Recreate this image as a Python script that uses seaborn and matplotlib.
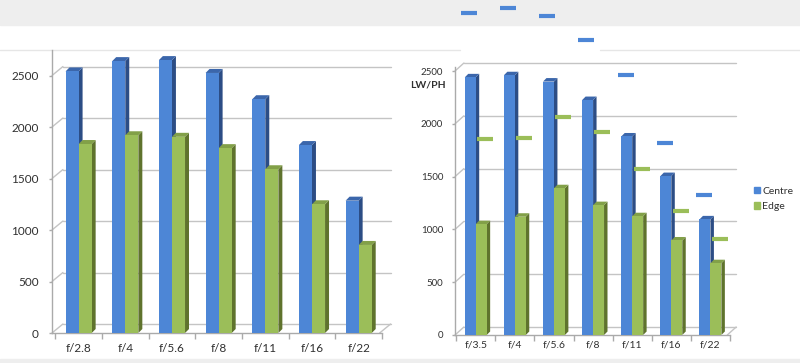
# -*- coding: utf-8 -*-
# Deux histogrammes "3D" façon Excel : LW/PH centre / bord selon l'ouverture
import numpy as np
import pandas as pd
import matplotlib
matplotlib.use('Agg')
import matplotlib.pyplot as plt
from matplotlib.patches import Polygon, Rectangle
from matplotlib.lines import Line2D
import seaborn as sns

# ── Données ──────────────────────────────────────────────────────────
apertures_left = ['f/2.8', 'f/4', 'f/5.6', 'f/8', 'f/11', 'f/16', 'f/22']
centre_left = [2540, 2640, 2650, 2525, 2270, 1825, 1285]
edge_left = [1835, 1920, 1905, 1795, 1590, 1250, 855]

apertures_right = ['f/3.5', 'f/4', 'f/5.6', 'f/8', 'f/11', 'f/16', 'f/22']
centre_right = [2440, 2460, 2400, 2225, 1880, 1505, 1095]
edge_right = [1050, 1120, 1390, 1230, 1125, 895, 680]

# petits traits "fantômes" visibles sur le graphique de droite
ghost_centre = [3050, 3095, 3025, 2795, 2460, 1820, 1325]
ghost_edge = [1860, 1870, 2065, 1920, 1575, 1175, 905]

y_ticks = [0, 500, 1000, 1500, 2000, 2500]
series = ['Centre', 'Edge']

colors = {'Centre': '#4d86d6', 'Edge': '#9bbe59'}
side_colors = {'Centre': '#2c4d85', 'Edge': '#5f732d'}
top_colors = {'Centre': '#3b66ab', 'Edge': '#82a048'}
grid_color = '#c4c4c4'

sns.set_theme(style='white')
plt.rcParams['font.family'] = ['Lato', 'DejaVu Sans']

W, H = 800, 363
fig = plt.figure(figsize=(W / 100, H / 100), dpi=100)
fig.patch.set_facecolor('white')


def add_ax(left_px, right_px, top_px, bottom_px):
    return fig.add_axes([left_px / W, 1 - bottom_px / H,
                         (right_px - left_px) / W, (bottom_px - top_px) / H])


def to_long(labels, centre, edge):
    n = len(labels)
    return pd.DataFrame({'aperture': labels * 2,
                         'value': centre + edge,
                         'serie': ['Centre'] * n + ['Edge'] * n})


def shifted(ax, pts, dx, dy):
    """Décale des points (données) de (dx, dy) pixels, retourne en données."""
    disp = ax.transData.transform(pts) + np.array([dx, dy])
    return ax.transData.inverted().transform(disp)


def draw_chart(ax, labels, centre, edge, ymax, xlim, depth, bar_depth,
               ytick_fs, xtick_fs, xfamily, xpad, ypad):
    df = to_long(labels, centre, edge)
    sns.barplot(data=df, x='aperture', y='value', hue='serie', palette=colors,
                width=0.56, errorbar=None, saturation=1, linewidth=0,
                ax=ax, zorder=3, legend=False)
    ax.set_xlim(*xlim)
    ax.set_ylim(0, ymax)
    ax.set_facecolor('none')
    ax.set_xlabel('')
    ax.set_ylabel('')

    # faces latérales et supérieures des barres
    d = bar_depth
    for cont, s in zip(ax.containers, series):
        for bar in cont:
            x0, w, h = bar.get_x(), bar.get_width(), bar.get_height()
            x1 = x0 + w
            side = np.vstack([[(x1, 0), (x1, h)],
                              shifted(ax, [(x1, h), (x1, 0)], d, d)])
            top = np.vstack([[(x0, h), (x1, h)],
                             shifted(ax, [(x1, h), (x0, h)], d, d)])
            ax.add_patch(Polygon(side, closed=True, color=side_colors[s],
                                 lw=0, zorder=2, clip_on=False))
            ax.add_patch(Polygon(top, closed=True, color=top_colors[s],
                                 lw=0, zorder=2, clip_on=False))

    # paroi du fond : quadrillage décalé + liaisons obliques
    dx, dy = depth
    for v in y_ticks:
        back = shifted(ax, [(xlim[0], v), (xlim[1], v)], dx, dy)
        ax.plot(back[:, 0], back[:, 1], color=grid_color, lw=1,
                zorder=1, clip_on=False)
        ax.plot([xlim[0], back[0, 0]], [v, back[0, 1]], color=grid_color,
                lw=1, zorder=1, clip_on=False)
    # bord droit du sol
    corner = shifted(ax, [(xlim[1], 0)], dx, dy)[0]
    ax.plot([xlim[1], corner[0]], [0, corner[1]], color=grid_color, lw=1,
            zorder=1, clip_on=False)

    for sp in ['top', 'right']:
        ax.spines[sp].set_visible(False)
    for sp in ['left', 'bottom']:
        ax.spines[sp].set_color('#aaaaaa')
        ax.spines[sp].set_linewidth(1)

    ax.set_yticks(y_ticks)
    ax.set_yticklabels([str(v) for v in y_ticks])
    ax.tick_params(axis='y', length=2.5, width=1, color='#aaaaaa',
                   labelsize=ytick_fs, pad=ypad, left=True, labelcolor='#303030')
    ax.set_xticks(range(len(labels)))
    ax.set_xticklabels(labels, fontsize=xtick_fs, family=xfamily,
                       color='#303030')
    ax.tick_params(axis='x', which='major', length=0, pad=xpad)
    ax.set_xticks(np.arange(-0.5, len(labels), 1), minor=True)
    ax.tick_params(axis='x', which='minor', length=4, width=1,
                   color='#aaaaaa', bottom=True)
    ax.grid(False)


# ── Fond : bandeaux gris et filet léger ─────────────────────────────
fig.add_artist(Rectangle((0, 1 - 25 / H), 1, 25 / H, transform=fig.transFigure,
                         color='#eeeeee', zorder=-1))
fig.add_artist(Rectangle((0, 0), 1, 4 / H, transform=fig.transFigure,
                         color='#eeeeee', zorder=-1))
for xa, xb in [(0, 460), (600, 800)]:
    fig.add_artist(Line2D([xa / W, xb / W], [1 - 50 / H, 1 - 50 / H],
                          transform=fig.transFigure, color='#e6e6e6',
                          lw=1, zorder=-1))

# ── Graphique de gauche ─────────────────────────────────────────────
axL = add_ax(52, 382, 50, 333)
draw_chart(axL, apertures_left, centre_left, edge_left, ymax=2748,
           xlim=(-0.57, 6.45), depth=(11, 9), bar_depth=4,
           ytick_fs=8.5, xtick_fs=8.5, xfamily=['Lato', 'DejaVu Sans'],
           xpad=7, ypad=7)

# ── Graphique de droite ─────────────────────────────────────────────
axR = add_ax(455, 730, 67, 335)
draw_chart(axR, apertures_right, centre_right, edge_right, ymax=2538,
           xlim=(-0.53, 6.43), depth=(9, 8), bar_depth=3.5,
           ytick_fs=7, xtick_fs=7.5,
           xfamily=['Liberation Sans Narrow', 'Lato', 'DejaVu Sans'],
           xpad=4, ypad=6)

pos = np.arange(len(apertures_right))
axR.plot(pos - 0.17, ghost_centre, ls='none', marker='_', ms=11, mew=3,
         color=colors['Centre'], clip_on=False, zorder=5)
axR.plot(pos + 0.24, ghost_edge, ls='none', marker='_', ms=11, mew=3,
         color=colors['Edge'], clip_on=False, zorder=5)

fig.text(428 / W, 1 - 85 / H, 'LW/PH', ha='center', va='center',
         fontsize=7.5, fontweight='bold', color='#303030')

handles = [Rectangle((0, 0), 1, 1, color=colors[s]) for s in series]
fig.legend(handles, series, loc='upper left',
           bbox_to_anchor=(754 / W, 1 - 187 / H), frameon=False,
           fontsize=7.5, handlelength=0.55, handleheight=0.55,
           handletextpad=0.25, labelspacing=0.6, borderpad=0,
           borderaxespad=0, labelcolor='#303030')

fig.savefig('out.png', dpi=100)
